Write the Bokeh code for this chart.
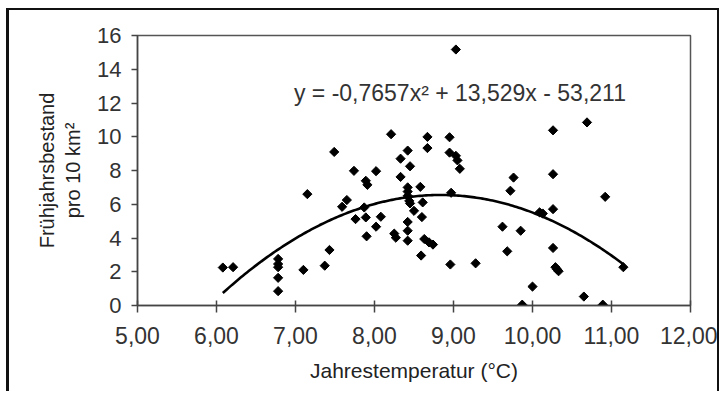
import numpy as np
from bokeh.plotting import figure
from bokeh.models import Range1d, FixedTicker, Label, ColumnDataSource
from bokeh.embed import file_html
from bokeh.resources import INLINE

# ---- data ----
temperatur = [6.08, 6.21, 6.78, 6.78, 6.78, 6.78, 6.78, 7.10, 7.15, 7.37,
              7.43, 7.49, 7.59, 7.65, 7.74, 7.76, 7.89, 7.91, 7.87, 7.89,
              7.90, 8.02, 8.02, 8.08, 8.21, 8.25, 8.27, 8.33, 8.33, 8.42,
              8.45, 8.42, 8.42, 8.42, 8.44, 8.45, 8.42, 8.42, 8.42, 8.50,
              8.58, 8.60, 8.61, 8.59, 8.63, 8.69, 8.74, 8.67, 8.67, 8.95,
              8.95, 8.97, 8.96, 9.03, 9.03, 9.05, 9.08, 9.28, 9.62, 9.68,
              9.72, 9.76, 9.85, 9.87, 10.00, 10.09, 10.13, 10.26, 10.26, 10.26,
              10.26, 10.29, 10.33, 10.31, 10.65, 10.69, 10.89, 10.92, 11.15]
bestand = [2.25, 2.27, 2.76, 2.46, 2.27, 1.64, 0.85, 2.11, 6.60, 2.36,
           3.29, 9.10, 5.85, 6.25, 7.98, 5.12, 7.39, 7.15, 5.81, 5.22,
           4.10, 7.96, 4.67, 5.26, 10.15, 4.26, 4.02, 8.70, 7.62, 9.18,
           8.25, 7.00, 6.75, 6.50, 6.20, 6.05, 4.95, 4.43, 3.84, 5.61,
           7.03, 5.24, 6.11, 2.96, 3.94, 3.74, 3.61, 9.99, 9.33, 9.97,
           9.06, 6.68, 2.43, 15.17, 8.87, 8.60, 8.10, 2.50, 4.67, 3.21,
           6.80, 7.58, 4.43, 0.05, 1.12, 5.52, 5.45, 10.38, 7.78, 5.71,
           3.41, 2.27, 2.03, 2.15, 0.53, 10.85, 0.05, 6.44, 2.27]

# polynomial trendline coefficients (as printed on the chart)
trend_a, trend_b, trend_c = -0.7657, 13.529, -53.211
equation_text = "y = -0,7657x\u00b2 + 13,529x - 53,211"

x_ticks = [5, 6, 7, 8, 9, 10, 11, 12]
x_tick_labels = ["5,00", "6,00", "7,00", "8,00", "9,00", "10,00", "11,00", "12,00"]
y_ticks = [0, 2, 4, 6, 8, 10, 12, 14, 16]

x_title = "Jahrestemperatur (\u00b0C)"
y_title = "Fr\u00fchjahrsbestand\npro 10 km\u00b2"

FONT = "Liberation Sans"

p = figure(width=713, height=383,
           x_range=Range1d(5, 12), y_range=Range1d(0, 16),
           output_backend="svg", toolbar_location=None,
           min_border_left=128, min_border_right=32,
           min_border_top=25, min_border_bottom=88,
           background_fill_color="white", border_fill_color="white")
p.margin = (8, 0, 0, 6)
p.styles = {"border-left": "3px solid #111", "border-top": "2px solid #111",
            "border-right": "2px solid #111"}

p.xgrid.visible = False
p.ygrid.visible = False
p.outline_line_color = "#555555"
p.outline_line_width = 1.5

# x axis
xa = p.xaxis[0]
xa.ticker = FixedTicker(ticks=x_ticks)
xa.major_label_overrides = dict(zip(x_ticks, x_tick_labels))
xa.major_tick_in = 5
xa.major_tick_out = 7
xa.minor_tick_line_color = None
xa.axis_line_color = "#444444"
xa.axis_line_width = 1.5
xa.major_tick_line_color = "#444444"
xa.major_tick_line_width = 1.5
xa.major_label_text_font = FONT
xa.major_label_text_font_size = "23px"
xa.major_label_text_color = "#333333"
xa.major_label_standoff = 14
xa.axis_label = x_title
xa.axis_label_text_font = FONT
xa.axis_label_text_font_size = "21px"
xa.axis_label_text_font_style = "normal"
xa.axis_label_text_color = "#222222"
xa.axis_label_standoff = 12

# y axis
ya = p.yaxis[0]
ya.ticker = FixedTicker(ticks=y_ticks)
ya.major_tick_in = 0
ya.major_tick_out = 6
ya.minor_tick_line_color = None
ya.axis_line_color = "#444444"
ya.axis_line_width = 1.5
ya.major_tick_line_color = "#444444"
ya.major_tick_line_width = 1.5
ya.major_label_text_font = FONT
ya.major_label_text_font_size = "22px"
ya.major_label_text_color = "#333333"
ya.major_label_standoff = 10
ya.axis_label = y_title
ya.axis_label_text_font = FONT
ya.axis_label_text_font_size = "20px"
ya.axis_label_text_font_style = "normal"
ya.axis_label_text_color = "#222222"
ya.axis_label_standoff = 10

# trendline
xs = np.linspace(min(temperatur), max(temperatur), 200)
ys = trend_a * xs ** 2 + trend_b * xs + trend_c
p.line(xs, ys, line_color="black", line_width=2.6)

# scatter (diamonds)
src = ColumnDataSource(dict(x=temperatur, y=bestand))
p.scatter("x", "y", source=src, marker="square", angle=np.pi / 4, size=6.5,
          fill_color="black", line_color="black", line_width=1)

# equation label
p.add_layout(Label(x=6.98, y=12.57, text=equation_text, text_font=FONT,
                   text_font_size="23px", text_color="#333333",
                   text_baseline="alphabetic", text_align="left"))

open("out.html", "w").write(file_html(p, INLINE))
